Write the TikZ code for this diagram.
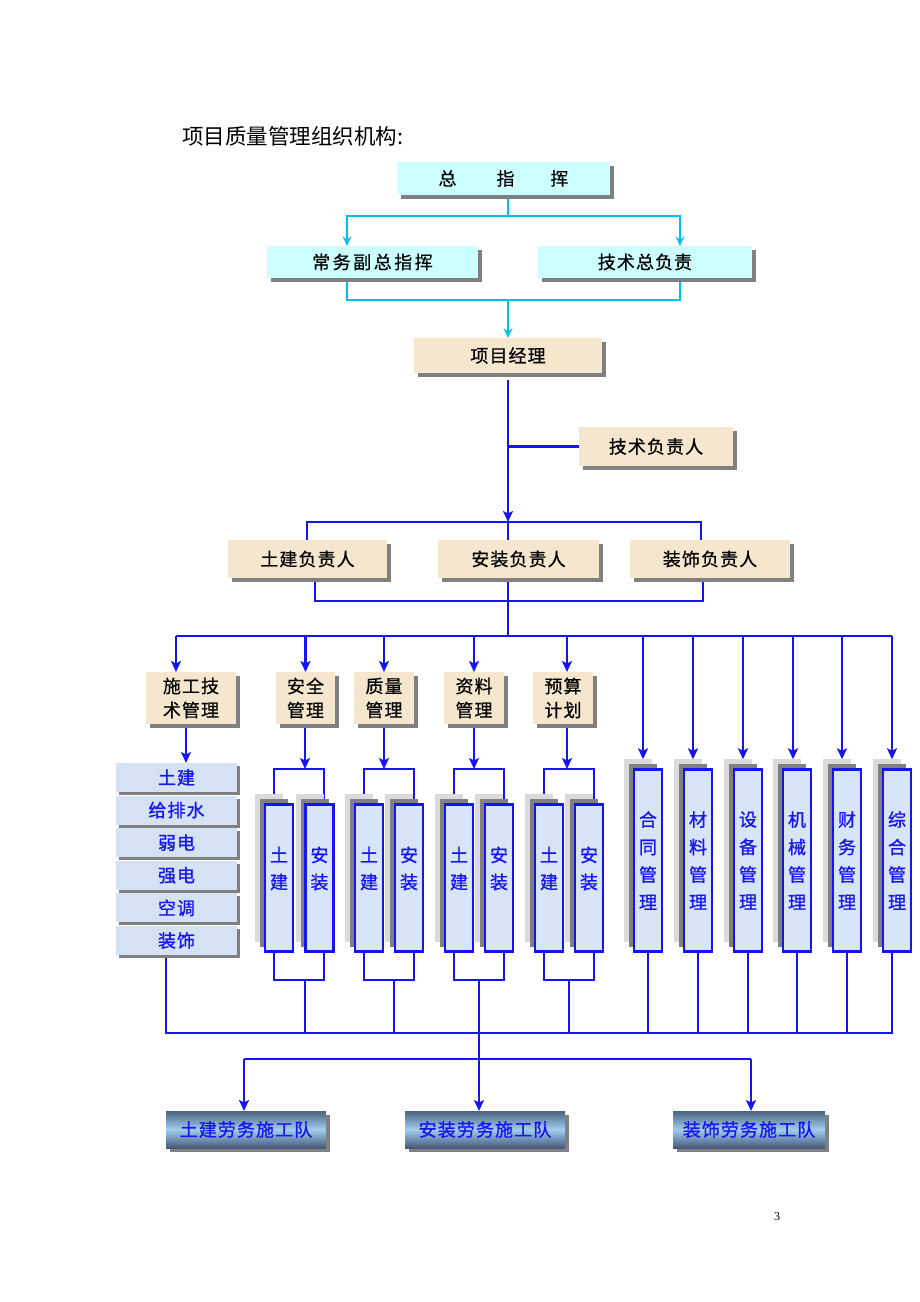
\documentclass[tikz,border=0pt]{standalone}
\usepackage{fontspec}
\setmainfont{Liberation Serif}
\newfontfamily\cjk[LetterSpace=6,FakeBold=0.6]{Noto Sans CJK SC}
\newfontfamily\cjkb[LetterSpace=6,FakeBold=1]{Noto Sans CJK SC}
\newfontfamily\cjkplain{Noto Sans CJK SC}
\usetikzlibrary{shadows,arrows.meta,calc}
\pgfdeclarelayer{bg}
\pgfsetlayers{bg,main}
\definecolor{cyanfill}{RGB}{204,255,255}
\definecolor{cyanline}{RGB}{0,190,240}
\definecolor{wheatc}{RGB}{245,231,206}
\definecolor{bl}{RGB}{20,20,245}
\definecolor{lbfill}{RGB}{212,226,244}
\definecolor{vbfill}{RGB}{216,229,248}
\definecolor{shgray}{RGB}{128,128,128}
\definecolor{shlight}{RGB}{218,218,218}
\definecolor{teamdark}{RGB}{78,98,128}
\definecolor{teamdarkb}{RGB}{70,88,118}
\definecolor{teamlight}{RGB}{160,205,240}
\begin{document}
\begin{tikzpicture}[x=1pt,y=-1pt,
  every node/.style={inner sep=0pt, outer sep=0pt},
  boxfont/.style={font=\cjk\fontsize{18}{20}\selectfont},
  bluefont/.style={font=\cjkb\fontsize{18}{20}\selectfont},
  dshadow/.style={drop shadow={shadow xshift=4pt, shadow yshift=-4pt, fill=shgray, opacity=1}},
  cyanbox/.style={boxfont, fill=cyanfill, dshadow},
  wheatbox/.style={fill=wheatc, dshadow, align=center, font=\cjk\fontsize{18}{24}\selectfont},
  listbox/.style={bluefont, text=bl, fill=lbfill, drop shadow={shadow xshift=3pt, shadow yshift=-3pt, fill=shgray, opacity=1}, minimum width=121pt, minimum height=29pt},
  vbox/.style={fill=vbfill, draw=bl, line width=2.6pt,
    general shadow={shadow xshift=-10pt, shadow yshift=10pt, fill=shlight, opacity=1},
    general shadow={shadow xshift=-5pt, shadow yshift=5pt, fill=shgray, opacity=1},
    minimum width=28pt, text=bl, align=center, font=\cjkb\fontsize{18}{27.5}\selectfont},
  vtext/.style={text=bl, align=center, font=\cjkb\fontsize{18}{27}\selectfont},
  teambox/.style={bluefont, text=bl, top color=teamdark, bottom color=teamdarkb, middle color=teamlight, dshadow, minimum height=37pt},
  bline/.style={draw=bl, line width=2.8pt},
  barr/.style={bline, -{Stealth[length=11pt,width=10pt,inset=2.5pt]}},
  cline/.style={draw=cyanline, line width=2.2pt},
  carr/.style={cline, -{Stealth[length=10pt,width=9pt,inset=4pt]}}]
\useasboundingbox (0,0) rectangle (920,1302);

% title
\node[anchor=west, font=\cjkplain\fontsize{21.5}{24}\selectfont] (title) at (182,136) {项目质量管理组织机构:};

% top cyan boxes
\node[cyanbox, minimum width=213pt, minimum height=33pt] (zzh) at (503.5,178.5) {总\hspace{40pt}指\hspace{36pt}挥};
\node[cyanbox, minimum width=211pt, minimum height=32pt] (cwfz) at (372.5,262) {\addfontfeature{LetterSpace=14}常务副总指挥};
\node[cyanbox, minimum width=214pt, minimum height=32pt] (jszfz) at (645,262) {技术总负责};

% wheat boxes
\node[wheatbox, minimum width=188pt, minimum height=35pt] (xmjl) at (508,355.5) {项目经理};
\node[wheatbox, minimum width=154pt, minimum height=39pt] (jsfzr) at (656,446.5) {技术负责人};
\node[wheatbox, minimum width=159pt, minimum height=38pt] (tjfz) at (307.5,559) {土建负责人};
\node[wheatbox, minimum width=161pt, minimum height=38pt] (azfz) at (518.5,559) {安装负责人};
\node[wheatbox, minimum width=160pt, minimum height=38pt] (zsfz) at (710,559) {装饰负责人};

\node[wheatbox, minimum width=90pt, minimum height=52pt] (sgjs) at (191,698) {施工技\\术管理};
\node[wheatbox, minimum width=59pt, minimum height=52pt] (aqgl) at (305.5,698) {安全\\管理};
\node[wheatbox, minimum width=60pt, minimum height=52pt] (zlgl) at (384,698) {质量\\管理};
\node[wheatbox, minimum width=60pt, minimum height=52pt] (zlgl2) at (474,698) {资料\\管理};
\node[wheatbox, minimum width=60pt, minimum height=52pt] (ysjh) at (563,698) {预算\\计划};

% list boxes
\node[listbox] (l1) at (176.5,777.5) {土建};
\node[listbox] (l2) at (176.5,810.1) {给排水};
\node[listbox] (l3) at (176.5,842.7) {弱电};
\node[listbox] (l4) at (176.5,875.3) {强电};
\node[listbox] (l5) at (176.5,907.9) {空调};
\node[listbox] (l6) at (176.5,940.5) {装饰};

% pair boxes
\foreach \n/\x in {p1a/279,p1b/319.5,p2a/369,p2b/409,p3a/459,p3b/499,p4a/549,p4b/589}{
  \node[vbox, minimum height=147.4pt] (\n) at (\x,878) {};
}
\foreach \n/\t in {p1a/土\\建,p1b/安\\装,p2a/土\\建,p2b/安\\装,p3a/土\\建,p3b/安\\装,p4a/土\\建,p4b/安\\装}{
  \node[vtext] (\n t) at ($(\n.center)+(0,-9.5)$) {\t};
}

% right columns
\node[vbox, minimum height=182.4pt] (rc1) at (648,860.5) {合\\同\\管\\理};
\node[vbox, minimum height=182.4pt] (rc2) at (698,860.5) {材\\料\\管\\理};
\node[vbox, minimum height=182.4pt] (rc3) at (748,860.5) {设\\备\\管\\理};
\node[vbox, minimum height=182.4pt] (rc4) at (797,860.5) {机\\械\\管\\理};
\node[vbox, minimum height=182.4pt] (rc5) at (847,860.5) {财\\务\\管\\理};
\node[vbox, minimum height=182.4pt] (rc6) at (897,860.5) {综\\合\\管\\理};

% team boxes
\node[teambox, minimum width=160pt] (tjl) at (246,1129.5) {土建劳务施工队};
\node[teambox, minimum width=160pt] (azl) at (485,1129.5) {安装劳务施工队};
\node[teambox, minimum width=152pt] (zsl) at (749,1129.5) {装饰劳务施工队};

% page number
\node[font=\fontsize{12}{14}\selectfont] (pg) at (777,1217) {3};

% junction coordinates
\coordinate (c1) at (508,216); \coordinate (c1l) at (347,216); \coordinate (c1r) at (680,216);
\coordinate (c2) at (508,300); \coordinate (c2l) at (347,300); \coordinate (c2r) at (680,300);
\coordinate (b1) at (508,522); \coordinate (b1l) at (307,522); \coordinate (b1r) at (701,522);
\coordinate (b2) at (508,601); \coordinate (b2l) at (315,601); \coordinate (b2r) at (703,601);
\coordinate (b3) at (508,636); \coordinate (b3l) at (176,636); \coordinate (b3r) at (892,636);
\coordinate (a5) at (567,636);
\coordinate (t1) at (643,636); \coordinate (t2) at (693,636); \coordinate (t3) at (743,636);
\coordinate (t4) at (793,636); \coordinate (t5) at (842,636); \coordinate (t6) at (892,636);
\coordinate (g1) at (186,724);
\coordinate (k1a) at (274,769); \coordinate (k1b) at (324,769); \coordinate (m1a) at (274,980); \coordinate (m1b) at (324,980); \coordinate (s1) at (305,980); \coordinate (q1) at (305,724);
\coordinate (k2a) at (364,769); \coordinate (k2b) at (414,769); \coordinate (m2a) at (364,980); \coordinate (m2b) at (414,980); \coordinate (s2) at (394,980); \coordinate (q2) at (384,724);
\coordinate (k3a) at (454,769); \coordinate (k3b) at (504,769); \coordinate (m3a) at (454,980); \coordinate (m3b) at (504,980); \coordinate (s3) at (479,980); \coordinate (q3) at (474,724);
\coordinate (k4a) at (544,769); \coordinate (k4b) at (594,769); \coordinate (m4a) at (544,980); \coordinate (m4b) at (594,980); \coordinate (s4) at (569,980); \coordinate (q4) at (567,724);
\coordinate (h1l) at (166,1033); \coordinate (h1r) at (892,1033);
\coordinate (h2l) at (244,1059); \coordinate (h2r) at (751,1059);

\begin{pgfonlayer}{bg}
% cyan connectors
\draw[cline] (zzh.south -| c1) -- (c1);
\draw[carr] (c1) -- (c1l) -- (c1l |- cwfz.north);
\draw[carr] (c1) -- (c1r) -- (c1r |- jszfz.north);
\draw[cline] (cwfz.south -| c2l) -- (c2l) -- (c2r) -- (jszfz.south -| c2r);
\draw[carr] (c2) -- (xmjl.north);
% project manager down
\draw[barr] ($(xmjl.south)+(0,7)$) -- (b1);
\draw[bline] (xmjl.south |- jsfzr.west) -- (jsfzr.west);
\draw[bline] (tjfz.north -| b1l) -- (b1l) -- (b1r) -- (zsfz.north -| b1r);
\draw[bline] (b1) -- (azfz.north -| b1);
\draw[bline] (tjfz.south -| b2l) -- (b2l) -- (b2r) -- (zsfz.south -| b2r);
\draw[bline] (azfz.south -| b2) -- (b3);
\draw[bline] (b3l) -- (b3r);
\draw[barr] (b3l) -- (b3l |- sgjs.north);
\draw[barr] (aqgl.north |- b3) -- (aqgl.north);
\draw[barr] (zlgl.north |- b3) -- (zlgl.north);
\draw[barr] (zlgl2.north |- b3) -- (zlgl2.north);
\draw[barr] (a5) -- (a5 |- ysjh.north);
\draw[barr] (t1) -- ($(rc1.north)+(-5,-10)$);
\draw[barr] (t2) -- ($(rc2.north)+(-5,-10)$);
\draw[barr] (t3) -- ($(rc3.north)+(-5,-10)$);
\draw[barr] (t4) -- ($(rc4.north)+(-4,-10)$);
\draw[barr] (t5) -- ($(rc5.north)+(-5,-10)$);
\draw[barr] (t6) -- ($(rc6.north)+(-5,-10)$);
% technical mgmt to list
\draw[barr] (g1) -- (g1 |- l1.north);
% pairs
\draw[barr] (q1) -- (q1 |- k1a);
\draw[barr] (q2) -- (q2 |- k2a);
\draw[barr] (q3) -- (q3 |- k3a);
\draw[barr] (q4) -- (q4 |- k4a);
\draw[bline] (p1a.north -| k1a) -- (k1a) -- (k1b) -- (p1b.north -| k1b);
\draw[bline] (p2a.north -| k2a) -- (k2a) -- (k2b) -- (p2b.north -| k2b);
\draw[bline] (p3a.north -| k3a) -- (k3a) -- (k3b) -- (p3b.north -| k3b);
\draw[bline] (p4a.north -| k4a) -- (k4a) -- (k4b) -- (p4b.north -| k4b);
\draw[bline] (p1a.south -| m1a) -- (m1a) -- (m1b) -- (p1b.south -| m1b);
\draw[bline] (p2a.south -| m2a) -- (m2a) -- (m2b) -- (p2b.south -| m2b);
\draw[bline] (p3a.south -| m3a) -- (m3a) -- (m3b) -- (p3b.south -| m3b);
\draw[bline] (p4a.south -| m4a) -- (m4a) -- (m4b) -- (p4b.south -| m4b);
\draw[bline] (s1) -- (s1 |- h1l);
\draw[bline] (s2) -- (s2 |- h1l);
\draw[bline] (s4) -- (s4 |- h1l);
% bottom collector
\draw[bline] (l6.south -| h1l) -- (h1l) -- (h1r) -- (rc6.south -| h1r);
\draw[bline] (rc1.south) -- (rc1.south |- h1l);
\draw[bline] (rc2.south) -- (rc2.south |- h1l);
\draw[bline] (rc3.south) -- (rc3.south |- h1l);
\draw[bline] (rc4.south) -- (rc4.south |- h1l);
\draw[bline] (rc5.south) -- (rc5.south |- h1l);
% teams
\draw[barr] (s3) -- (s3 |- azl.north);
\draw[bline] (h2l) -- (h2r);
\draw[barr] (h2l) -- (h2l |- tjl.north);
\draw[barr] (h2r) -- (h2r |- zsl.north);
\end{pgfonlayer}
\end{tikzpicture}
\end{document}
